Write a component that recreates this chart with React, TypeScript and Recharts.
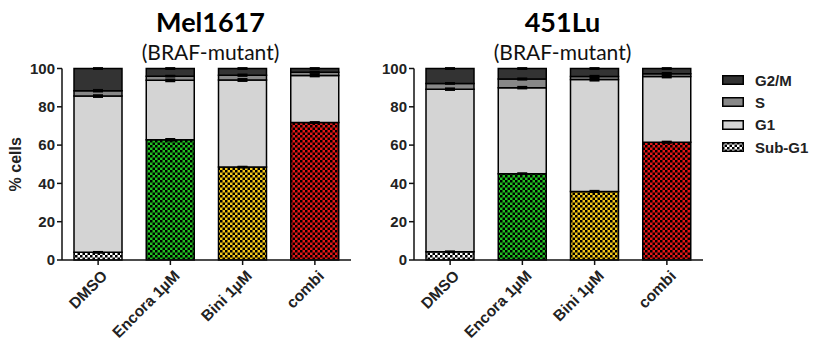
import React from "react";
import { BarChart, Bar, XAxis, YAxis, Cell, ErrorBar } from "recharts";

const categories = ["DMSO", "Encora 1µM", "Bini 1µM", "combi"];
const treatmentPatterns = ["chk-white", "chk-green", "chk-yellow", "chk-red"];

// Mel1617 (% cells per phase)
const melSubG1 = [4, 62.8, 48.5, 71.8];
const melG1 = [81.6, 31, 45.5, 24.6];
const melS = [2.8, 2.2, 2.5, 1.6];
const melG2M = [11.6, 4, 3.5, 2];
const melSubG1Err = [0.2, 0.4, 0.2, 0.2];
const melG1Err = [0.45, 0.45, 0.5, 0.5];
const melSErr = [0.4, 0.2, 0.35, 0.3];
const melG2MErr = [0.2, 0.2, 0.2, 0.2];

// 451Lu
const luSubG1 = [4.3, 45.1, 35.8, 61.5];
const luG1 = [84.9, 44.9, 58.4, 34.3];
const luS = [3, 4.5, 1.6, 1.5];
const luG2M = [7.8, 5.5, 4.2, 2.7];
const luSubG1Err = [0.2, 0.2, 0.3, 0.3];
const luG1Err = [0.4, 0.4, 0.5, 0.45];
const luSErr = [0.2, 0.3, 0.35, 0.35];
const luG2MErr = [0.2, 0.2, 0.2, 0.2];

const yTicks = [0, 20, 40, 60, 80, 100];

const legendItems = [
  { name: "G2/M", fill: "#333333" },
  { name: "S", fill: "#888888" },
  { name: "G1", fill: "#d4d4d4" },
  { name: "Sub-G1", fill: "url(#chk-white)" },
];

const buildRows = (
  subG1: number[], g1: number[], s: number[], g2m: number[],
  subG1Err: number[], g1Err: number[], sErr: number[], g2mErr: number[]
) =>
  categories.map((name, i) => ({
    name,
    subG1: subG1[i],
    g1: g1[i],
    s: s[i],
    g2m: g2m[i],
    subG1Err: subG1Err[i],
    g1Err: g1Err[i],
    sErr: sErr[i],
    g2mErr: g2mErr[i],
  }));

const melData = buildRows(melSubG1, melG1, melS, melG2M, melSubG1Err, melG1Err, melSErr, melG2MErr);
const luData = buildRows(luSubG1, luG1, luS, luG2M, luSubG1Err, luG1Err, luSErr, luG2MErr);

const AXIS_FONT = "'Liberation Sans', Arial, sans-serif";
const TITLE_FONT = "Lato, 'Open Sans', sans-serif";

const XTick = ({ x, y, payload }: any) => (
  <g transform={`translate(${x + 1},${y + 5})`}>
    <text
      x={3}
      y={0}
      dy={10}
      textAnchor="end"
      transform="rotate(-45)"
      fontSize={15.5}
      fontWeight="bold"
      fontFamily={AXIS_FONT}
      fill="#222"
    >
      {payload.value}
    </text>
  </g>
);

const Checker = ({ id, color }: { id: string; color: string }) => (
  <pattern id={id} patternUnits="userSpaceOnUse" width={5} height={5}>
    <rect x={0} y={0} width={5} height={5} fill={color} />
    <rect x={0} y={0} width={2.5} height={2.5} fill="#000" />
    <rect x={2.5} y={2.5} width={2.5} height={2.5} fill="#000" />
  </pattern>
);

interface PanelProps {
  data: any[];
  title: string;
  left: number;
  width: number;
  marginLeft: number;
  marginRight: number;
  yLabel?: string;
}

function Panel({ data, title, left, width, marginLeft, marginRight, yLabel }: PanelProps) {
  const plotCenter = marginLeft + 40 + (width - marginLeft - 40 - marginRight) / 2 + 4;
  const err = (key: string) => (
    <ErrorBar dataKey={key} width={5} strokeWidth={2} stroke="#000" direction="y" isAnimationActive={false} />
  );
  return (
    <div style={{ position: "absolute", left, top: 0, width, height: 347 }}>
      <div
        style={{
          position: "absolute", left: plotCenter - 120, width: 240, top: 8, textAlign: "center",
          fontFamily: TITLE_FONT, fontWeight: 700, fontSize: 27, lineHeight: "27px", color: "#000",
        }}
      >
        {title}
      </div>
      <div
        style={{
          position: "absolute", left: plotCenter - 120, width: 240, top: 39, textAlign: "center",
          fontFamily: TITLE_FONT, fontSize: 21, lineHeight: "25px", color: "#111",
        }}
      >
        (BRAF-mutant)
      </div>
      <BarChart
        width={width}
        height={347}
        data={data}
        margin={{ top: 68.5, right: marginRight, bottom: 27, left: marginLeft }}
        barSize={48}
      >
        <XAxis
          dataKey="name"
          interval={0}
          height={60}
          tick={<XTick />}
          tickSize={5}
          axisLine={{ stroke: "#111", strokeWidth: 1.5 }}
          tickLine={{ stroke: "#111", strokeWidth: 1.5 }}
        />
        <YAxis
          domain={[0, 100]}
          ticks={yTicks}
          width={40}
          tickSize={5}
          tickMargin={2}
          axisLine={{ stroke: "#111", strokeWidth: 1.5 }}
          tickLine={{ stroke: "#111", strokeWidth: 1.5 }}
          tick={{ fill: "#222", fontSize: 15, fontWeight: "bold", fontFamily: AXIS_FONT }}
          label={
            yLabel
              ? {
                  value: yLabel, angle: -90, position: "insideLeft", offset: -7,
                  style: { textAnchor: "middle", fontSize: 16, fontWeight: "bold", fontFamily: AXIS_FONT, fill: "#222" },
                }
              : undefined
          }
        />
        <Bar dataKey="subG1" stackId="a" stroke="#000" strokeWidth={1.5} isAnimationActive={false}>
          {data.map((_, i) => (
            <Cell key={i} fill={`url(#${treatmentPatterns[i]})`} />
          ))}
          {err("subG1Err")}
        </Bar>
        <Bar dataKey="g1" stackId="a" fill="#d4d4d4" stroke="#000" strokeWidth={1.5} isAnimationActive={false}>
          {err("g1Err")}
        </Bar>
        <Bar dataKey="s" stackId="a" fill="#888888" stroke="#000" strokeWidth={1.5} isAnimationActive={false}>
          {err("sErr")}
        </Bar>
        <Bar dataKey="g2m" stackId="a" fill="#333333" stroke="#000" strokeWidth={1.5} isAnimationActive={false}>
          {err("g2mErr")}
        </Bar>
      </BarChart>
    </div>
  );
}

export default function App() {
  return (
    <div style={{ position: "fixed", left: 0, top: 0, width: 815, height: 347, background: "#fff", overflow: "hidden" }}>
      <svg width={0} height={0} style={{ position: "absolute" }}>
        <defs>
          <Checker id="chk-white" color="#ffffff" />
          <Checker id="chk-green" color="#22c022" />
          <Checker id="chk-yellow" color="#f5c81a" />
          <Checker id="chk-red" color="#e41818" />
        </defs>
      </svg>
      <Panel data={melData} title="Mel1617" left={0} width={360} marginLeft={22} marginRight={9} yLabel="% cells" />
      <Panel data={luData} title="451Lu" left={360} width={455} marginLeft={14} marginRight={112} />
      <div style={{ position: "absolute", left: 722, top: 69, fontFamily: AXIS_FONT }}>
        {legendItems.map((item) => (
          <div key={item.name} style={{ display: "flex", alignItems: "center", height: 22.3 }}>
            <svg width={22} height={10} style={{ display: "block" }}>
              <rect x={0.75} y={0.75} width={20.5} height={8.5} fill={item.fill} stroke="#000" strokeWidth={1.5} />
            </svg>
            <span style={{ marginLeft: 11, fontSize: 15, fontWeight: "bold", color: "#222" }}>{item.name}</span>
          </div>
        ))}
      </div>
    </div>
  );
}
